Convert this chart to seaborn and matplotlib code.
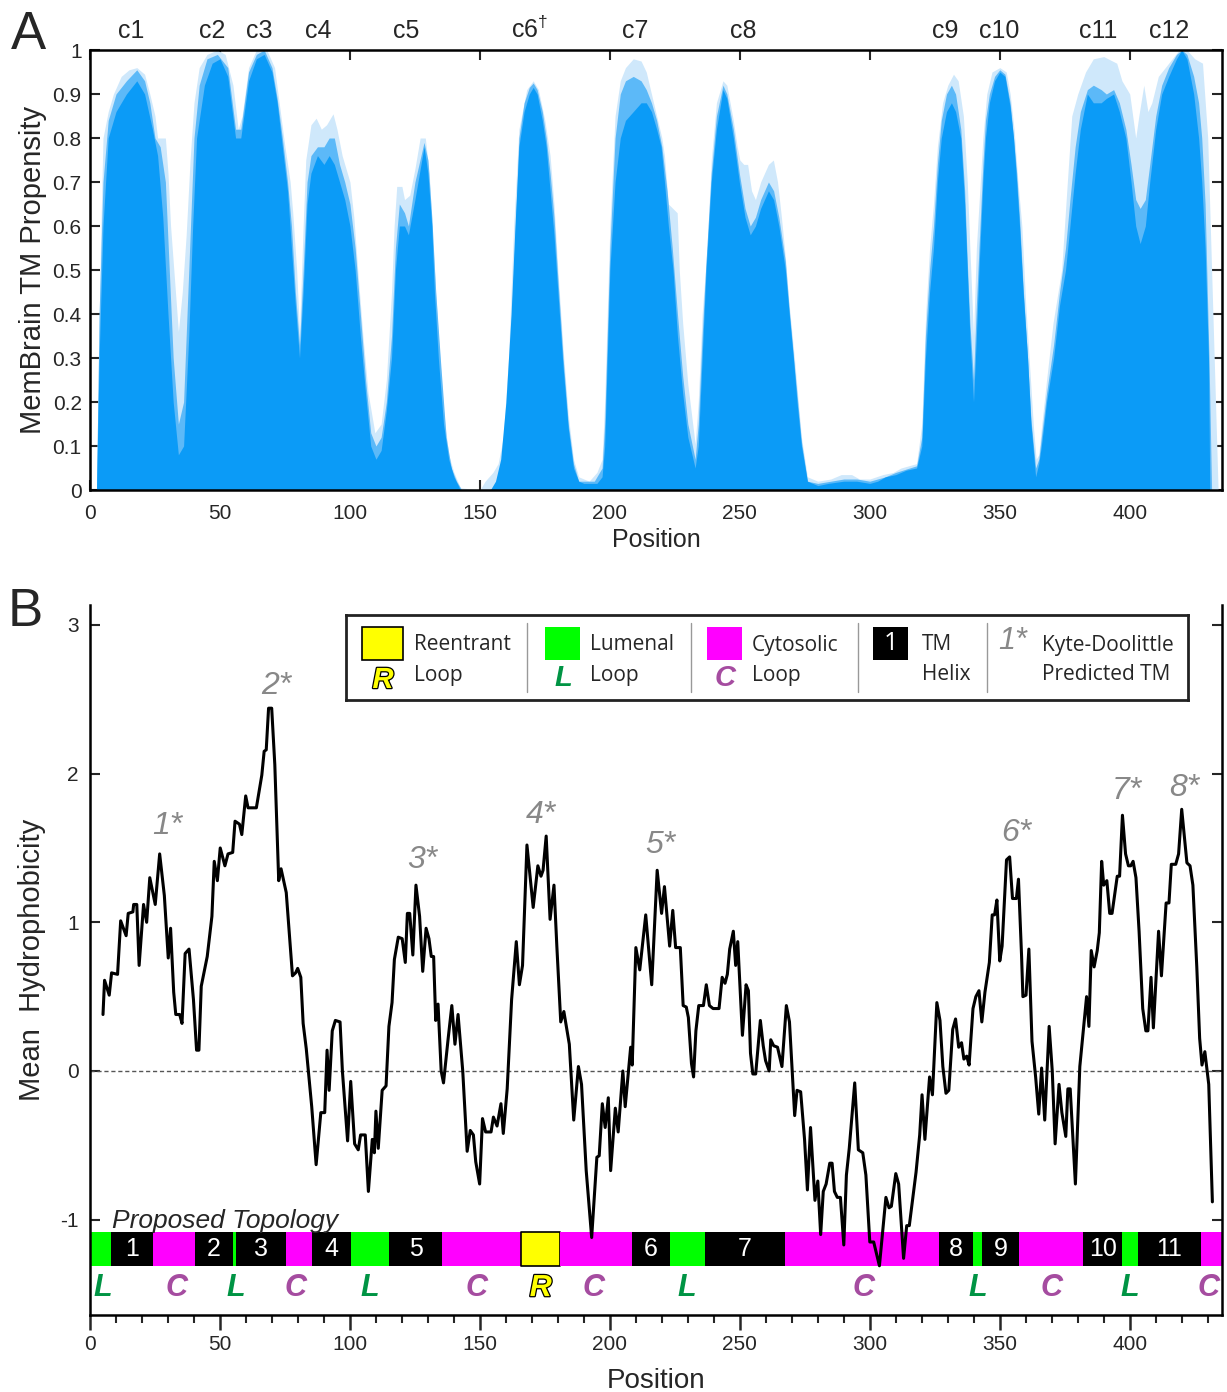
import matplotlib
matplotlib.use('Agg')
import matplotlib.pyplot as plt
import matplotlib.patheffects as pe
from matplotlib.ticker import FixedLocator, MultipleLocator
import seaborn as sns

# ---------------- Panel A: MemBrain TM propensity (3 overlay levels) ----------------
light_pos = [0, 2.5, 3, 4, 5, 7, 9, 12, 15, 18, 21, 23, 25, 26, 29, 30, 31, 32.5, 34, 35.5, 37, 38.5, 40, 42, 45, 49,
             52, 55, 57, 58.5, 61, 64, 68, 71, 73, 75, 77, 78, 79.5, 80.6, 82, 83, 85, 87, 89, 91, 93.5, 95, 97, 100,
             101.5, 103, 105, 107, 109.6, 112, 114, 116, 117, 118, 120, 121, 123, 125, 127, 129, 130.5, 132, 134, 136,
             138, 140, 142.5, 150, 152, 155, 157, 159, 161, 163, 165, 168, 170.5, 172.5, 175, 177, 178.5, 180, 182,
             184, 186, 188, 192, 195, 197, 198, 200, 202, 204, 206, 209, 212, 214, 216, 218, 220, 221, 222.5, 225.9,
             226.7, 228, 230, 232.8, 234, 235.5, 237.4, 239, 241, 243.5, 245, 247.5, 249, 250, 251.5, 253, 254.5, 256,
             258, 261, 262.9, 264.5, 266, 267.5, 269, 271, 273.7, 276, 280, 285, 289, 293, 296, 300, 305, 309, 312,
             318, 320, 321.5, 323, 324.5, 326, 328, 330, 332.2, 334, 336, 337.5, 338.5, 339.9, 341, 342, 343.5, 345,
             347, 350, 352.5, 354, 355.5, 357, 358.5, 360, 361.5, 363, 364, 365, 366, 368, 370.5, 373.8, 376, 377.7,
             380, 383, 386, 390, 395, 397, 400, 402.3, 403.5, 405.4, 407, 408.5, 411, 415, 419, 422, 425, 428, 430,
             431.5, 433, 434, 435.5]
light_val = [0, 0, 0.2, 0.55, 0.8, 0.86, 0.9, 0.94, 0.955, 0.96, 0.945, 0.9, 0.85, 0.8, 0.8, 0.72, 0.6, 0.48, 0.36,
             0.45, 0.58, 0.75, 0.88, 0.96, 0.99, 1.0, 0.99, 0.92, 0.82, 0.85, 0.96, 1.0, 1.0, 0.96, 0.87, 0.78, 0.7,
             0.63, 0.5, 0.36, 0.6, 0.75, 0.83, 0.845, 0.82, 0.83, 0.855, 0.82, 0.76, 0.7, 0.62, 0.5, 0.35, 0.22, 0.13,
             0.15, 0.25, 0.45, 0.6, 0.69, 0.69, 0.66, 0.67, 0.73, 0.8, 0.8, 0.72, 0.55, 0.35, 0.18, 0.08, 0.04, 0.005,
             0.0, 0.02, 0.04, 0.06, 0.12, 0.3, 0.6, 0.82, 0.91, 0.93, 0.91, 0.84, 0.76, 0.65, 0.5, 0.32, 0.17, 0.07,
             0.03, 0.02, 0.04, 0.07, 0.2, 0.6, 0.85, 0.93, 0.96, 0.98, 0.975, 0.95, 0.9, 0.85, 0.8, 0.76, 0.65, 0.63,
             0.5, 0.38, 0.24, 0.105, 0.2, 0.4, 0.55, 0.75, 0.88, 0.93, 0.92, 0.84, 0.78, 0.75, 0.74, 0.74, 0.68, 0.66,
             0.7, 0.74, 0.75, 0.7, 0.62, 0.53, 0.42, 0.3, 0.12, 0.03, 0.02, 0.025, 0.035, 0.035, 0.025, 0.025, 0.035,
             0.04, 0.05, 0.06, 0.15, 0.4, 0.55, 0.65, 0.78, 0.88, 0.92, 0.945, 0.93, 0.85, 0.7, 0.55, 0.35, 0.55, 0.65,
             0.8, 0.9, 0.95, 0.96, 0.95, 0.9, 0.82, 0.7, 0.6, 0.42, 0.28, 0.14, 0.07, 0.08, 0.14, 0.25, 0.38, 0.5, 0.7,
             0.85, 0.9, 0.95, 0.98, 0.985, 0.97, 0.93, 0.9, 0.8, 0.85, 0.92, 0.86, 0.88, 0.94, 0.97, 1.0, 1.0, 0.98,
             0.97, 0.8, 0.5, 0.2, 0.0, 0.0]

mid_pos = [0, 2.5, 3.5, 5, 7, 10, 14, 18, 21, 23, 25, 27, 29, 30.5, 32, 34, 36, 38, 40, 42, 45, 49, 53, 56, 58, 61,
           64, 67, 70, 72, 74, 76, 77.5, 79, 80.6, 82, 83.5, 85, 87.5, 90, 92, 94, 96, 98, 100, 102, 104, 106, 108,
           110, 112, 114, 116, 117.5, 119, 121, 122.5, 125, 128.5, 130, 131.5, 133, 135, 137, 139, 141, 143, 155, 157,
           159, 161, 163, 165, 167, 169, 170.5, 172, 174, 175.5, 177, 178.5, 180, 182, 184, 186, 188, 194, 197, 198,
           200, 202, 204, 206, 209, 212, 214, 216, 218, 220, 222, 224, 226, 228, 230, 232.8, 234, 235.5, 237, 239,
           241, 243.5, 245, 247.5, 249.8, 252, 254, 256, 258, 261, 263, 265, 267.5, 269, 271, 273.7, 276, 280, 290,
           295, 300, 306, 310, 318, 320, 321.4, 323, 324.5, 326, 327.5, 329.5, 331.4, 333, 335, 336.5, 337.5, 338.5,
           339.9, 341, 342, 343.5, 344.5, 346, 348, 350, 352, 354, 355.3, 356.5, 357.6, 359, 360.7, 362, 363.8, 365,
           366, 368, 370.7, 373, 375.3, 377, 379, 381, 383.7, 386, 389, 391, 393.8, 396, 398.5, 400.5, 402.3, 404, 406,
           407.7, 410, 412.3, 415, 418, 420, 422, 424.6, 426.5, 427.7, 429, 430.5, 431.5, 435.5]
mid_val = [0, 0, 0.4, 0.7, 0.84, 0.9, 0.93, 0.955, 0.93, 0.88, 0.8, 0.78, 0.7, 0.5, 0.3, 0.15, 0.2, 0.5, 0.8, 0.92,
           0.98, 0.99, 0.96, 0.82, 0.82, 0.95, 0.99, 1.0, 0.96, 0.89, 0.8, 0.7, 0.6, 0.45, 0.33, 0.5, 0.7, 0.76, 0.78,
           0.78, 0.8, 0.8, 0.74, 0.7, 0.65, 0.55, 0.4, 0.25, 0.13, 0.1, 0.12, 0.2, 0.35, 0.55, 0.65, 0.63, 0.6, 0.7,
           0.79, 0.75, 0.62, 0.45, 0.28, 0.12, 0.05, 0.02, 0, 0, 0.01, 0.1, 0.25, 0.5, 0.8, 0.88, 0.915, 0.925, 0.91,
           0.86, 0.8, 0.72, 0.62, 0.48, 0.3, 0.15, 0.06, 0.02, 0.02, 0.05, 0.15, 0.55, 0.8, 0.9, 0.93, 0.94, 0.93,
           0.91, 0.88, 0.84, 0.78, 0.68, 0.55, 0.4, 0.26, 0.15, 0.07, 0.15, 0.35, 0.52, 0.72, 0.85, 0.92, 0.9, 0.82,
           0.72, 0.64, 0.6, 0.62, 0.66, 0.7, 0.68, 0.62, 0.52, 0.41, 0.28, 0.11, 0.02, 0.015, 0.025, 0.025, 0.02,
           0.03, 0.04, 0.055, 0.12, 0.35, 0.5, 0.6, 0.74, 0.84, 0.9, 0.92, 0.9, 0.82, 0.68, 0.52, 0.38, 0.25, 0.42,
           0.55, 0.74, 0.84, 0.9, 0.94, 0.955, 0.945, 0.88, 0.8, 0.72, 0.62, 0.46, 0.3, 0.16, 0.05, 0.07, 0.12, 0.22,
           0.33, 0.45, 0.55, 0.66, 0.78, 0.86, 0.91, 0.92, 0.91, 0.9, 0.91, 0.88, 0.82, 0.74, 0.66, 0.64, 0.66, 0.74,
           0.85, 0.92, 0.96, 0.99, 1.0, 0.99, 0.94, 0.88, 0.8, 0.65, 0.3, 0, 0]

dark_pos = [0, 2.5, 3.5, 5, 7, 10, 14, 18, 21, 24, 26, 28, 30, 32, 34, 36, 38, 39.5, 41, 44, 47, 50, 53, 56, 58, 61,
            64, 67, 70, 72, 74, 76, 77.5, 79, 80.6, 82, 83.5, 85, 87.5, 90, 92, 94, 96, 98, 100, 102, 104, 106, 108,
            110, 112, 114, 116, 117.5, 119, 121, 122.5, 125, 128.5, 130, 131.5, 132.5, 134, 136, 138, 140, 142.5, 154,
            156, 158, 160, 162, 163.5, 165, 167, 169, 170.5, 172, 174, 175.5, 177, 178.5, 180, 182, 184, 186, 188, 190,
            195, 197, 198, 200, 202, 204, 206, 209, 212, 214, 216, 218, 219.7, 221, 222.5, 224.3, 226, 228, 230, 232.8,
            234, 235.5, 237, 239, 241, 243.5, 245, 247.5, 249.8, 252, 254, 256, 258, 261, 263, 265, 267.5, 269, 270.6,
            272, 273.7, 276, 280, 284, 290, 295, 300, 303, 306, 310, 314, 318, 320, 321.4, 323, 324.5, 326, 327.5,
            329.5, 331.4, 333, 335, 336.5, 337.5, 338.5, 339.9, 341, 342, 343.5, 344.5, 346, 348, 350, 352, 354, 355.3,
            356.5, 357.6, 359, 360.7, 362, 363.8, 365, 366, 368, 370.7, 373, 375.3, 377, 379, 381, 383.7, 386, 389,
            391, 393.8, 396, 398.5, 400.5, 402.3, 404, 406, 407.7, 410, 412.3, 415, 418, 420, 422, 424.6, 426.5, 427.7,
            429, 430.3, 430.8, 435.5]
dark_val = [0, 0, 0.3, 0.6, 0.8, 0.86, 0.9, 0.93, 0.9, 0.82, 0.76, 0.62, 0.4, 0.2, 0.08, 0.1, 0.35, 0.6, 0.8, 0.92,
            0.97, 0.98, 0.94, 0.8, 0.8, 0.93, 0.98, 0.99, 0.95, 0.88, 0.78, 0.68, 0.55, 0.42, 0.3, 0.45, 0.65, 0.72,
            0.76, 0.74, 0.76, 0.74, 0.7, 0.66, 0.6, 0.5, 0.35, 0.22, 0.1, 0.07, 0.09, 0.18, 0.3, 0.5, 0.6, 0.6, 0.58,
            0.66, 0.78, 0.72, 0.6, 0.45, 0.3, 0.15, 0.07, 0.03, 0, 0, 0.02, 0.07, 0.2, 0.4, 0.6, 0.78, 0.86, 0.9,
            0.915, 0.9, 0.84, 0.78, 0.68, 0.58, 0.45, 0.28, 0.14, 0.05, 0.02, 0.015, 0.015, 0.03, 0.1, 0.5, 0.7, 0.8,
            0.84, 0.86, 0.88, 0.88, 0.86, 0.82, 0.78, 0.7, 0.6, 0.5, 0.35, 0.22, 0.12, 0.05, 0.1, 0.3, 0.5, 0.7, 0.82,
            0.91, 0.89, 0.8, 0.7, 0.62, 0.58, 0.6, 0.64, 0.68, 0.66, 0.6, 0.5, 0.4, 0.3, 0.2, 0.1, 0.02, 0.01, 0.015,
            0.02, 0.02, 0.015, 0.02, 0.03, 0.035, 0.045, 0.05, 0.1, 0.3, 0.45, 0.55, 0.7, 0.8, 0.86, 0.88, 0.86, 0.8,
            0.65, 0.5, 0.35, 0.2, 0.35, 0.5, 0.7, 0.8, 0.88, 0.93, 0.95, 0.94, 0.87, 0.8, 0.7, 0.6, 0.45, 0.3, 0.15,
            0.03, 0.06, 0.1, 0.2, 0.3, 0.42, 0.5, 0.6, 0.72, 0.82, 0.9, 0.88, 0.88, 0.89, 0.9, 0.86, 0.8, 0.7, 0.6,
            0.56, 0.6, 0.7, 0.82, 0.9, 0.94, 0.98, 1.0, 0.98, 0.9, 0.8, 0.7, 0.55, 0.3, 0.0, 0.0]

core_labels = ['c1', 'c2', 'c3', 'c4', 'c5', 'c6$^{\\dagger}$', 'c7', 'c8', 'c9', 'c10', 'c11', 'c12']
core_pos = [16, 47, 65, 88, 121.5, 169, 209.6, 251.5, 329, 349.6, 388, 415]

# ---------------- Panel B: Kyte-Doolittle mean hydrophobicity ----------------
hyd_pos = [5.0, 5.6, 7.4, 8.3, 10.6, 11.8, 13.9, 14.7, 16.5, 16.8, 18.0, 18.9, 20.6, 21.8, 23.0, 25.1, 26.8, 28.6,
           30.1, 31.0, 32.2, 33.0, 34.5, 35.4, 36.6, 38.1, 39.8, 41.0, 41.9, 42.8, 45.1, 46.9, 47.8, 49.0, 50.1, 51.9,
           53.1, 54.9, 55.8, 57.5, 58.4, 59.9, 60.8, 64.0, 66.1, 67.0, 67.8, 68.7, 69.9, 71.1, 72.6, 73.5, 75.5, 77.9,
           79.1, 79.9, 81.1, 82.0, 83.2, 85.3, 87.0, 88.8, 90.3, 91.2, 92.0, 93.2, 94.4, 96.2, 97.1, 99.1, 100.3,
           101.8, 103.2, 104.1, 105.9, 107.1, 108.6, 109.4, 110.0, 110.9, 112.4, 113.9, 115.0, 116.2, 117.1, 118.6,
           120.1, 121.3, 122.1, 123.0, 124.2, 125.4, 126.8, 128.0, 129.3, 130.4, 131.3, 132.2, 133.0, 133.9, 135.1,
           136.0, 137.8, 139.2, 140.4, 141.6, 143.4, 145.1, 146.3, 147.5, 148.4, 149.9, 151.0, 152.2, 154.3, 155.2,
           156.6, 158.1, 159.0, 160.5, 162.2, 164.0, 165.2, 166.4, 168.1, 170.5, 172.3, 173.5, 174.3, 175.5, 177.0,
           178.5, 179.6, 181.1, 182.3, 184.4, 186.1, 187.9, 189.1, 190.9, 193.0, 195.0, 195.9, 197.1, 198.2, 199.4,
           200.3, 202.1, 203.2, 205.0, 205.9, 208.0, 208.6, 210.0, 211.5, 213.8, 216.1, 218.2, 219.9, 221.0, 223.0,
           224.2, 225.3, 227.1, 228.2, 229.4, 230.2, 231.4, 232.2, 233.1, 234.2, 236.0, 237.1, 238.3, 239.7, 242.0,
           243.2, 244.3, 245.2, 246.1, 247.5, 248.4, 249.2, 251.0, 252.4, 253.3, 254.1, 255.0, 256.1, 257.9, 259.0,
           259.9, 261.3, 261.9, 263.0, 264.5, 266.2, 267.9, 269.1, 271.1, 272.0, 273.4, 274.9, 276.0, 277.2, 278.9,
           280.0, 281.1, 282.1, 283.2, 284.6, 285.5, 286.4, 287.5, 288.7, 290.0, 291.0, 292.1, 294.2, 295.6, 297.3,
           298.5, 300.0, 301.5, 303.7, 306.2, 307.4, 308.3, 310.0, 311.1, 313.0, 314.2, 315.2, 317.8, 319.2, 320.1,
           321.2, 323.0, 324.1, 325.8, 327.0, 328.1, 329.3, 330.4, 331.9, 333.0, 334.2, 335.3, 336.2, 337.3, 338.2,
           339.7, 340.8, 342.0, 343.1, 344.3, 346.0, 347.1, 348.0, 348.9, 350.0, 350.9, 352.6, 353.8, 354.9, 356.4,
           357.2, 358.4, 358.9, 360.1, 361.2, 362.4, 363.8, 365.0, 366.1, 367.3, 369.0, 370.2, 371.3, 372.8, 373.9,
           375.4, 376.2, 377.1, 379.1, 380.8, 382.3, 383.4, 384.3, 385.2, 386.3, 387.5, 388.3, 389.2, 390.0, 391.2,
           392.3, 393.2, 395.2, 396.1, 397.2, 398.4, 399.5, 400.4, 401.3, 402.4, 403.6, 405.0, 406.2, 407.0, 408.2,
           409.1, 411.1, 412.2, 414.0, 415.1, 416.0, 417.7, 418.8, 420.0, 421.1, 422.0, 423.2, 424.3, 425.8, 426.9,
           427.8, 428.9, 430.4, 431.8]
hyd_val = [0.38, 0.61, 0.51, 0.66, 0.65, 1.01, 0.91, 1.06, 1.07, 1.12, 1.12, 0.71, 1.12, 1.00, 1.30, 1.12, 1.46, 1.18,
           0.76, 0.96, 0.53, 0.38, 0.38, 0.32, 0.79, 0.82, 0.48, 0.14, 0.14, 0.57, 0.77, 1.04, 1.41, 1.28, 1.50, 1.38,
           1.46, 1.47, 1.68, 1.66, 1.59, 1.85, 1.77, 1.77, 1.99, 2.15, 2.16, 2.44, 2.44, 2.06, 1.28, 1.36, 1.20, 0.64,
           0.66, 0.69, 0.63, 0.32, 0.15, -0.24, -0.63, -0.28, -0.28, 0.14, -0.13, 0.27, 0.34, 0.33, 0.00, -0.47,
           -0.07, -0.49, -0.53, -0.43, -0.43, -0.81, -0.46, -0.55, -0.27, -0.52, -0.13, -0.10, 0.30, 0.46, 0.75,
           0.90, 0.89, 0.73, 1.06, 1.06, 0.78, 1.25, 1.04, 0.67, 0.96, 0.89, 0.77, 0.77, 0.34, 0.45, 0.00, -0.08,
           0.22, 0.44, 0.18, 0.38, 0.00, -0.54, -0.40, -0.43, -0.61, -0.76, -0.32, -0.41, -0.41, -0.31, -0.37, -0.22,
           -0.42, -0.12, 0.48, 0.87, 0.58, 0.71, 1.52, 1.10, 1.38, 1.31, 1.35, 1.58, 1.02, 1.25, 0.84, 0.33, 0.40,
           0.18, -0.33, 0.03, -0.09, -0.67, -1.12, -0.58, -0.57, -0.22, -0.38, -0.18, -0.67, -0.25, -0.41, 0.00,
           -0.24, 0.16, 0.04, 0.83, 0.68, 1.05, 0.58, 1.35, 1.06, 1.24, 0.84, 1.08, 0.83, 0.83, 0.44, 0.43, 0.36,
           0.05, -0.04, 0.27, 0.44, 0.44, 0.58, 0.44, 0.42, 0.42, 0.63, 0.59, 0.65, 0.82, 0.94, 0.71, 0.87, 0.24,
           0.58, 0.54, 0.12, -0.02, -0.02, 0.34, 0.17, 0.07, 0.00, 0.21, 0.17, 0.16, 0.03, 0.44, 0.33, -0.30, -0.13,
           -0.14, -0.46, -0.80, -0.38, -0.87, -0.74, -1.10, -0.81, -0.76, -0.62, -0.62, -0.81, -0.85, -0.85, -1.17,
           -0.70, -0.52, -0.08, -0.53, -0.55, -0.70, -1.15, -1.15, -1.31, -0.85, -0.92, -0.91, -0.69, -0.76, -1.26,
           -1.04, -1.04, -0.68, -0.43, -0.16, -0.46, -0.04, -0.16, 0.46, 0.34, 0.03, -0.15, -0.13, 0.28, 0.35, 0.16,
           0.19, 0.08, 0.10, 0.04, 0.42, 0.50, 0.54, 0.33, 0.53, 0.73, 1.05, 1.05, 1.15, 0.74, 0.84, 1.42, 1.44,
           1.16, 1.16, 1.29, 0.77, 0.50, 0.51, 0.82, 0.20, -0.04, -0.29, 0.02, -0.33, 0.30, 0.00, -0.49, -0.09,
           -0.28, -0.44, -0.12, -0.12, -0.76, 0.03, 0.30, 0.50, 0.30, 0.81, 0.70, 0.81, 0.93, 1.41, 1.25, 1.28, 1.06,
           1.06, 1.31, 1.31, 1.72, 1.46, 1.38, 1.38, 1.41, 1.30, 0.94, 0.42, 0.27, 0.27, 0.63, 0.29, 0.94, 0.64,
           1.13, 1.13, 1.39, 1.39, 1.46, 1.76, 1.56, 1.40, 1.38, 1.25, 0.70, 0.22, 0.04, 0.13, -0.09, -0.88]

kd_labels = ['1*', '2*', '3*', '4*', '5*', '6*', '7*', '8*']
kd_pos = [29.6, 71.5, 128, 173.5, 219.6, 356.5, 398.8, 420.8]
kd_val = [1.65, 2.59, 1.42, 1.72, 1.52, 1.60, 1.88, 1.90]

# proposed topology: segment start, end and type (L lumenal, C cytosolic, R reentrant, T TM helix)
topo_start = [0, 8.2, 24.3, 40.3, 55, 56, 75.4, 85.3, 100.4, 115, 135.6, 165.7, 180.8, 208.4, 223.3, 236.6, 267.2,
              326.7, 339.7, 343.1, 357.5, 382, 397.2, 403, 427.5]
topo_end = [8.2, 24.3, 40.3, 55, 56, 75.4, 85.3, 100.4, 115, 135.6, 165.7, 180.8, 208.4, 223.3, 236.6, 267.2, 326.7,
            339.7, 343.1, 357.5, 382, 397.2, 403, 427.5, 435.5]
topo_type = ['L', 'T', 'C', 'T', 'L', 'T', 'C', 'T', 'L', 'T', 'C', 'R', 'C', 'T', 'L', 'T', 'C', 'T', 'L', 'T', 'C',
             'T', 'L', 'T', 'C']
loop_letters = ['L', 'C', 'L', 'C', 'L', 'C', 'R', 'C', 'L', 'C', 'L', 'C', 'L', 'C']
loop_letter_pos = [5, 33.4, 56, 79, 107.5, 148.6, 173.4, 193.6, 229.5, 297.6, 341.5, 369.9, 400.1, 430.4]

topo_colors = {'L': '#00ff00', 'C': '#ff00ff', 'R': '#ffff00', 'T': '#000000'}
letter_colors = {'L': '#009444', 'C': '#a54ca0', 'R': '#ffff00'}

sns.set_style('ticks')
plt.rcParams['font.family'] = ['Liberation Sans', 'DejaVu Sans']
plt.rcParams['axes.unicode_minus'] = False
plt.rcParams['mathtext.fontset'] = 'custom'
plt.rcParams['mathtext.rm'] = 'Liberation Sans'

W, H = 1227, 1392
fig = plt.figure(figsize=(W / 100, H / 100), dpi=100)

def px_rect(left, top, right, bottom):
    return [left / W, 1 - bottom / H, (right - left) / W, (bottom - top) / H]

# ---------- Panel A ----------
axA = fig.add_axes(px_rect(90, 50, 1222, 490))
axA.fill_between(light_pos, 0, light_val, color='#cfe8fb', lw=0)
axA.fill_between(mid_pos, 0, mid_val, color='#5cb9f8', lw=0)
axA.fill_between(dark_pos, 0, dark_val, color='#0b9bf7', lw=0)
axA.set_xlim(0, 435.5)
axA.set_ylim(0, 1)
axA.xaxis.set_major_locator(MultipleLocator(50))
axA.yaxis.set_major_locator(FixedLocator([i / 10 for i in range(11)]))
axA.set_yticklabels([f'{i / 10:g}' for i in range(11)])
axA.tick_params(direction='in', length=7, width=1.5, labelsize=15, top=True, right=True, pad=6)
axA.tick_params(axis='x', pad=10)
for s in axA.spines.values():
    s.set_linewidth(1.8)
    s.set_color('black')
axA.set_xlabel('Position', fontsize=18, labelpad=4)
axA.set_ylabel('MemBrain TM Propensity', fontsize=21, labelpad=4)
for lab, p in zip(core_labels, core_pos):
    axA.text(p, 1.017, lab, transform=axA.get_xaxis_transform(), ha='center', va='bottom', fontsize=18)
fig.text(28 / W, 1 - 35 / H, 'A', fontsize=38, ha='center', va='center')

# ---------- Panel B ----------
axB = fig.add_axes(px_rect(90, 605, 1222, 1315))
axB.axhline(0, color='#555555', lw=1, ls=(0, (3, 2)), zorder=1)
axB.broken_barh([(s, e - s) for s, e in zip(topo_start, topo_end)], (-1.31, 0.23),
                facecolors=[topo_colors[t] for t in topo_type],
                edgecolors=['black' if t == 'R' else 'none' for t in topo_type], linewidth=1.2, zorder=2)
helix = 1
for s, e, t in zip(topo_start, topo_end, topo_type):
    if t == 'T':
        axB.text((s + e) / 2, -1.197, str(helix), color='white', fontsize=18, ha='center', va='center', zorder=3)
        helix += 1
for lab, p in zip(loop_letters, loop_letter_pos):
    txt = axB.text(p, -1.46, lab, color=letter_colors[lab], fontsize=22, fontweight='bold', style='italic',
                   ha='center', va='center', zorder=3)
    if lab == 'R':
        txt.set_path_effects([pe.withStroke(linewidth=1.8, foreground='black')])
sns.lineplot(x=hyd_pos, y=hyd_val, ax=axB, color='black', lw=2.2, sort=False, estimator=None, zorder=4)
for lab, p, v in zip(kd_labels, kd_pos, kd_val):
    axB.text(p, v, lab, color='#888888', fontsize=23, style='italic', ha='center', va='center')
axB.text(8.5, -1.09, 'Proposed Topology', fontsize=19, style='italic', ha='left', va='bottom')

axB.set_xlim(0, 435.5)
axB.set_ylim(-1.641, 3.134)
axB.xaxis.set_major_locator(MultipleLocator(50))
axB.xaxis.set_minor_locator(MultipleLocator(10))
axB.yaxis.set_major_locator(FixedLocator([-1, 0, 1, 2, 3]))
axB.tick_params(axis='x', which='major', direction='out', length=11, width=1.8, labelsize=15)
axB.tick_params(axis='x', which='minor', direction='out', length=6, width=1.5)
axB.tick_params(axis='y', direction='in', length=7, width=1.5, labelsize=15, right=True, pad=8)
axB.spines['top'].set_visible(False)
for k in ['left', 'right', 'bottom']:
    axB.spines[k].set_linewidth(1.8)
    axB.spines[k].set_color('black')
axB.set_xlabel('Position', fontsize=20, labelpad=10)
axB.set_ylabel('Mean  Hydrophobicity', fontsize=21, labelpad=10)
fig.text(25 / W, 1 - 612 / H, 'B', fontsize=38, ha='center', va='center')

# ---------- legend box (pixel coordinates of the figure) ----------
axL = fig.add_axes(px_rect(346, 615, 1188, 700))
axL.set_xlim(346, 1188)
axL.set_ylim(700, 615)
axL.set_xticks([])
axL.set_yticks([])
axL.set_facecolor('white')
for s in axL.spines.values():
    s.set_linewidth(2)
    s.set_color('#222222')
leg_font = ['Open Sans', 'DejaVu Sans']
axL.add_patch(plt.Rectangle((362, 627), 41, 33, facecolor='#ffff00', edgecolor='black', lw=1.2))
axL.add_patch(plt.Rectangle((545, 627), 35, 33, facecolor='#00ff00', edgecolor='none'))
axL.add_patch(plt.Rectangle((707, 627), 35, 33, facecolor='#ff00ff', edgecolor='none'))
axL.add_patch(plt.Rectangle((873, 627), 35, 33, facecolor='black', edgecolor='none'))
axL.text(890.5, 644, '1', color='white', fontsize=18, ha='center', va='center', family=leg_font)
for x in [527, 691, 858, 987]:
    axL.plot([x, x], [623, 692], color='#999999', lw=1)
leg_top = ['Reentrant', 'Lumenal', 'Cytosolic', 'TM', 'Kyte-Doolittle']
leg_bot = ['Loop', 'Loop', 'Loop', 'Helix', 'Predicted TM']
leg_x = [414, 590, 752, 922, 1042]
for t, b, x in zip(leg_top, leg_bot, leg_x):
    axL.text(x, 645, t, fontsize=15, ha='left', va='center', family=leg_font)
    axL.text(x, 675, b, fontsize=15, ha='left', va='center', family=leg_font)
r = axL.text(383, 680, 'R', color='#ffff00', fontsize=21, fontweight='bold', style='italic', ha='center', va='center')
r.set_path_effects([pe.withStroke(linewidth=1.8, foreground='black')])
axL.text(563, 678, 'L', color='#009444', fontsize=21, fontweight='bold', style='italic', ha='center', va='center')
axL.text(725, 678, 'C', color='#a54ca0', fontsize=21, fontweight='bold', style='italic', ha='center', va='center')
axL.text(1013, 641, '1*', color='#888888', fontsize=22, style='italic', ha='center', va='center')

fig.savefig('out.png', dpi=100)
